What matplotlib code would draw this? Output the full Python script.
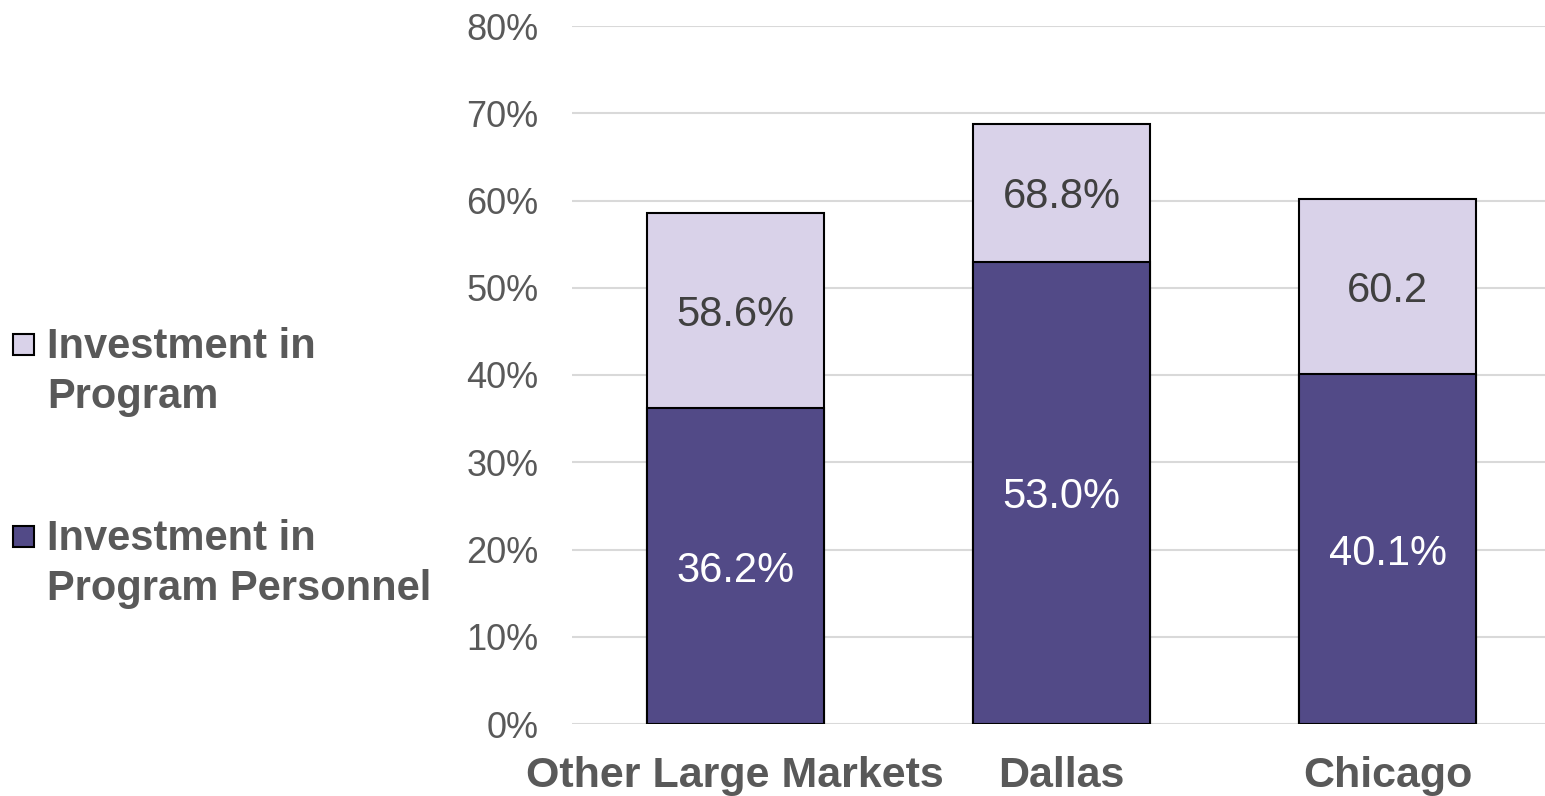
import matplotlib
matplotlib.use("Agg")
import matplotlib.pyplot as plt
from matplotlib.patches import Rectangle
import numpy as np

# market groups and the two investment shares (percent)
markets = ["Other Large Markets", "Dallas", "Chicago"]
program_total = [58.6, 68.8, 60.2]
personnel = [36.2, 53.0, 40.1]
program_labels = ["58.6%", "68.8%", "60.2"]
personnel_labels = ["36.2%", "53.0%", "40.1%"]
legend_names = [["Investment in", "Program"], ["Investment in", "Program Personnel"]]

light = "#D9D2E9"
dark = "#524A87"
gray = "#595959"

plt.rcParams["font.family"] = ["Liberation Sans", "DejaVu Sans"]

fig = plt.figure(figsize=(15.45, 7.96), dpi=100)
ax = fig.add_axes([572 / 1545, 72 / 796, 979 / 1545, 698 / 796])

x = np.arange(len(markets))
w = 0.543
# light bar runs from zero to the program total, dark bar drawn over it
ax.bar(x, program_total, width=w, color=light, edgecolor="black", linewidth=1.5, zorder=2)
ax.bar(x, personnel, width=w, color=dark, edgecolor="black", linewidth=1.5, zorder=3)

for i in range(len(markets)):
    ax.text(x[i], (personnel[i] + program_total[i]) / 2, program_labels[i],
            ha="center", va="center_baseline", fontsize=30, color="#404040", zorder=4)
    ax.text(x[i], personnel[i] / 2, personnel_labels[i],
            ha="center", va="center_baseline", fontsize=30, color="white", zorder=4)

ax.set_xlim(-0.5, 2.5)
ax.set_ylim(0, 80)
ax.set_yticks(np.arange(0, 81, 10))
ax.set_yticklabels([f"{v}%" for v in range(0, 81, 10)])
ax.set_xticks(x)
ax.set_xticklabels(markets, fontweight="bold")
ax.tick_params(axis="y", length=0, pad=24, labelsize=26, labelcolor=gray)
ax.tick_params(axis="x", length=0, pad=23, labelsize=31, labelcolor=gray)
ax.grid(axis="y", color="#D9D9D9", linewidth=1.5, zorder=0)
ax.set_axisbelow(True)
for s in ax.spines.values():
    s.set_visible(False)

# legend drawn by hand so the swatch sits next to the first line
H = 796.0
for k, (names, col) in enumerate(zip(legend_names, [light, dark])):
    top = 334 + k * 192
    fig.patches.append(Rectangle((13 / 1545, 1 - (top + 21) / H), 21 / 1545, 21 / H,
                                 transform=fig.transFigure, facecolor=col,
                                 edgecolor="black", linewidth=1.5))
    for j, line in enumerate(names):
        fig.text(47 / 1545, 1 - (358 + k * 192 + j * 50) / H, line, fontsize=30,
                 fontweight="bold", color=gray, ha="left", va="baseline")

fig.savefig("out.png", dpi=100)
